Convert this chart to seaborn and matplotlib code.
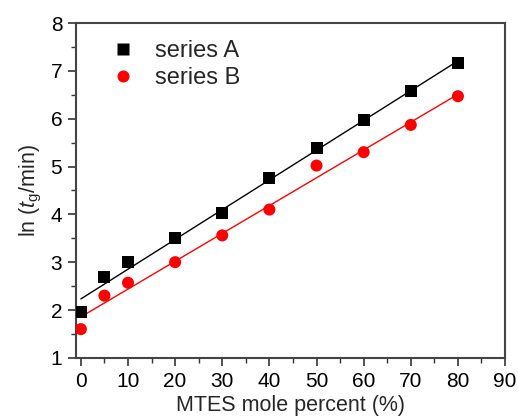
import numpy as np
import pandas as pd
import matplotlib
matplotlib.use("Agg")
import matplotlib.pyplot as plt
import seaborn as sns
from matplotlib.ticker import MultipleLocator

x_vals = [0, 5, 10, 20, 30, 40, 50, 60, 70, 80]
series_a = [1.95, 2.70, 3.00, 3.50, 4.03, 4.75, 5.38, 5.97, 6.57, 7.17]
series_b = [1.60, 2.30, 2.57, 3.00, 3.56, 4.10, 5.02, 5.30, 5.87, 6.47]
names = ["series A", "series B"]

sns.set_theme(style="ticks")
plt.rcParams['font.family'] = ['Liberation Sans', 'DejaVu Sans']
plt.rcParams['mathtext.fontset'] = 'custom'
plt.rcParams['mathtext.rm'] = 'Liberation Sans'
plt.rcParams['mathtext.it'] = 'Liberation Sans:italic'

df = pd.DataFrame({
    "x": x_vals * 2,
    "y": series_a + series_b,
    "series": [names[0]] * len(x_vals) + [names[1]] * len(x_vals),
})

fig = plt.figure(figsize=(5.18, 4.19), dpi=100)
ax = fig.add_axes([0.147, 0.146, 0.828, 0.799])

colors = {"series A": "black", "series B": "#ff0000"}
sns.scatterplot(data=df, x="x", y="y", hue="series", style="series",
                markers={"series A": "s", "series B": "o"},
                palette=colors, s=75, edgecolor="none", ax=ax, zorder=3)

xs = np.array(x_vals, dtype=float)
for name, ys in zip(names, [series_a, series_b]):
    k, b = np.polyfit(xs, ys, 1)
    fx = np.array([xs.min(), xs.max()])
    ax.plot(fx, k * fx + b, color=colors[name], lw=1.0, zorder=2)

ax.set_xlim(-1, 90)
ax.set_ylim(1, 8)
ax.xaxis.set_major_locator(MultipleLocator(10))
ax.xaxis.set_minor_locator(MultipleLocator(5))
ax.yaxis.set_major_locator(MultipleLocator(1))
ax.yaxis.set_minor_locator(MultipleLocator(0.5))
ax.tick_params(which='major', direction='out', length=6, width=1.2, labelsize=15, colors='#333333', labelcolor='black', pad=4)
ax.tick_params(which='minor', direction='out', length=3.5, width=1.0, colors='#333333')
for s in ax.spines.values():
    s.set_linewidth(1.5)
    s.set_color('#444444')

ax.set_xlabel("MTES mole percent (%)", fontsize=15.5, labelpad=3)
ax.set_ylabel(r"ln ($t_{\mathrm{g}}$/min)", fontsize=15.5, labelpad=5)

leg = ax.legend(loc="upper left", frameon=False, fontsize=17, title=None,
                bbox_to_anchor=(0.005, 1.012), handletextpad=0.35, labelspacing=0.2,
                markerscale=1.0)

fig.savefig("out.png", dpi=100)
